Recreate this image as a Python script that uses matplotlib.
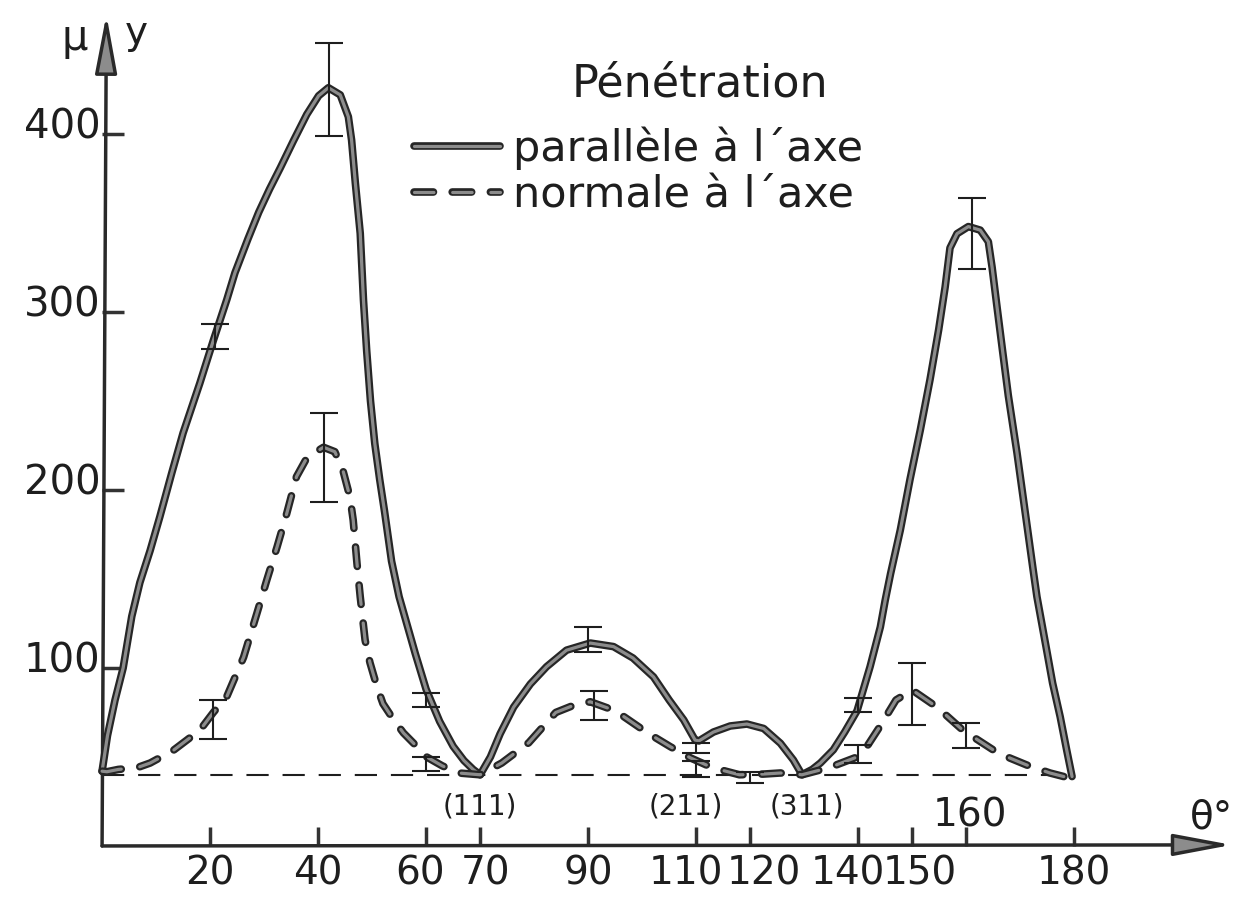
import matplotlib
matplotlib.use("Agg")
import matplotlib.pyplot as plt
from matplotlib import patheffects as pe
from matplotlib.transforms import ScaledTranslation

plt.rcParams["font.family"] = ["DejaVu Sans"]
plt.rcParams["lines.scale_dashes"] = False

# courbe "parallèle à l'axe" (trait plein)
par_x = [0, 1, 2.4, 3.9, 5.5, 7, 8.9, 10.7, 12.9, 15, 18.1, 20.6, 23.1, 24.6,
         27, 29, 31, 33, 35.4, 37.9, 40.1, 41.9, 44.1, 45.6, 46.2, 46.9, 47.8, 48.4,
         49, 49.7, 50.5, 51.4, 52.3, 53.6, 55, 56.5, 58, 60, 62.5, 65, 67, 68.7, 70,
         71.9, 73.7, 76.2, 79.3, 82.3, 86, 90.4, 94.7, 98.3, 102.1, 105, 107.7, 109.8,
         110.5, 113.2, 116.3, 119.4, 122.5, 125.6, 128, 129.6,
         131.5, 133, 135.4, 137.5, 139.8, 142.2, 144.1, 145, 146, 147.8, 149.6,
         151.5, 153.3, 154.9, 156.1, 157, 158.3, 160.4, 162.6, 164.1, 164.8, 165.7,
         166.7, 167.8, 169.4, 170.9, 172.4, 173.1, 174.9, 176, 177.4, 178.6, 179.6]
par_y = [42, 62, 82, 100, 129, 148, 166, 185, 209.5, 232, 260, 284, 307, 322,
         341, 356, 369, 381, 396, 411, 421.5, 426, 422, 409.7, 396.6, 372.3, 344.2, 306.7,
         278, 250, 226, 206, 188, 160, 140, 124, 108, 88, 70, 56, 48, 43, 40,
         50, 63, 78, 91, 100.7, 110, 114, 112, 105.6, 95, 82, 70.8, 59.5,
         59, 64, 67.4, 68.5, 66, 57.7, 48.3, 40,
         43, 46.6, 54, 64, 76, 100.7, 123, 138, 153, 177.5, 206,
         233.7, 262, 290, 314, 336, 344, 348, 346, 339.5, 325, 303,
         279, 253, 221, 188, 155, 140, 110, 91.5, 72.6, 54, 39]

# courbe "normale à l'axe" (tirets)
nor_x = [0, 0.9, 3, 6.5, 8.9, 13.1, 18.1, 20.6, 23.1, 26.2, 28.7, 30.5, 32.4,
         34.2, 36, 38, 41, 43.1, 44.6, 45.9, 46.5, 47.2, 47.8, 48.7, 49.6, 50.9,
         52, 54, 55.8, 58.3, 60.1, 63, 66, 70,
         74, 79, 84, 87.3, 90.4, 95, 101, 105.2, 109, 113, 118, 122.5, 125.6, 129.6,
         133, 135.4, 139.8, 141.6, 144, 147, 150, 154.6, 159.4, 166, 171.2, 175.5,
         178.7, 180]
nor_y = [42, 41.7, 43, 44, 46.6, 53.5, 65, 75, 84, 106, 131, 149.4, 168,
         186.9, 207.5, 218.5, 224, 221.5, 211, 196, 183, 158.7, 140, 115.7, 103, 89.5,
         80, 70.8, 63.5, 55.8, 50, 45, 41, 40,
         46.6, 58, 75, 79, 81, 76, 63.5, 55.8, 49.4, 44, 40, 40.4, 41, 40,
         42.7, 44.9, 50, 55.8, 67, 82, 87.6, 78, 65, 52, 45.5, 41,
         38.5, 39]

# barres d'erreur
par_err_x = [21, 42, 60, 90, 110, 140, 161]
par_err_y = [286, 425, 82, 116, 55, 79, 344]
par_err = [7, 26, 4, 7, 3, 4, 20]

nor_err_x = [20.5, 41, 60, 91, 110, 120, 140, 150, 160]
nor_err_y = [71, 218, 46, 79, 43.5, 38.5, 51.5, 85.5, 62]
nor_err = [11, 25, 4, 8, 4.5, 3, 5, 17.5, 7]

baseline = 40

x_ticks = [20, 40, 60, 70, 90, 110, 120, 140, 150, 160, 180]
x_labels = ["20", "40", "60", "70", "90", "110", "120", "140", "150", "", "180"]
# décalage horizontal (px) des étiquettes serrées
x_label_shift = [0, 0, -6, 5, 0, -10, 14, -10, 8, 0, 0]
y_ticks = [100, 200, 300, 400]

hkl_x = [70, 108, 130.5]
hkl_labels = ["(111)", "(211)", "(311)"]

ink = "#1e1e1e"
grey = "#8c8c8c"

fig = plt.figure(figsize=(12.33, 8.99), dpi=100)
ax = fig.add_axes([0, 0, 1, 1])
ax.set_xlim(-18.9, 209.4)
ax.set_ylim(-29.8, 475.3)

for s in ["top", "right"]:
    ax.spines[s].set_visible(False)
for s in ["left", "bottom"]:
    ax.spines[s].set_position(("data", 0))
    ax.spines[s].set_color("none")

ax.set_xticks(x_ticks)
ax.set_xticklabels(x_labels)
ax.set_yticks(y_ticks)
ax.tick_params(axis="x", direction="in", length=14, width=2.5, color="#333333",
               pad=6, labelsize=28, labelcolor=ink)
ax.tick_params(axis="y", direction="in", length=16, width=2.5, color="#333333",
               pad=1, labelsize=29, labelcolor=ink)
for lab in ax.get_yticklabels():
    lab.set_transform(lab.get_transform() + ScaledTranslation(0, 0.11, fig.dpi_scale_trans))
for lab, dx in zip(ax.get_xticklabels(), x_label_shift):
    lab.set_transform(lab.get_transform() + ScaledTranslation(dx / 100, 0, fig.dpi_scale_trans))

# axes avec flèches
arrow = dict(arrowstyle="-|>,head_length=0.8,head_width=0.15", mutation_scale=45,
             lw=2.5, ec="#2a2a2a", fc=grey, shrinkA=0, shrinkB=0)
ax.annotate("", xy=(0.8, 467), xytext=(0, 0), arrowprops=arrow,
            annotation_clip=False)
ax.annotate("", xy=(209.2, 0.6), xytext=(0, 0), arrowprops=arrow,
            annotation_clip=False)

# niveau de base
ax.plot([0, 180], [baseline, baseline], color=ink, lw=1.5,
        dashes=(16, 10), zorder=2)

outline = [pe.Stroke(linewidth=5.5, foreground="#262626"), pe.Normal()]
ax.plot(par_x, par_y, color=grey, lw=2.3, solid_capstyle="round",
        solid_joinstyle="round", path_effects=outline, zorder=3,
        label="parallèle à l´axe")
ax.plot(nor_x, nor_y, color=grey, lw=2.3, dashes=(14, 13.5),
        dash_capstyle="round", dash_joinstyle="round", path_effects=outline,
        zorder=3, label="normale à l´axe")

ax.errorbar(par_err_x, par_err_y, yerr=par_err, fmt="none", ecolor=ink,
            elinewidth=1.5, capsize=10, capthick=1.5, zorder=4)
ax.errorbar(nor_err_x, nor_err_y, yerr=nor_err, fmt="none", ecolor=ink,
            elinewidth=1.5, capsize=10, capthick=1.5, zorder=4)

for x, t in zip(hkl_x, hkl_labels):
    ax.text(x, 22, t, ha="center", va="center", fontsize=20, color=ink)

ax.text(160.7, 17, "160", ha="center", va="center", fontsize=28, color=ink)
ax.text(205.5, 16, "θ°", ha="center", va="center", fontsize=28, color=ink)
ax.text(-5, 454, "μ", ha="center", va="center", fontsize=30, color=ink)
ax.text(6.3, 457, "y", ha="center", va="center", fontsize=28, color=ink)

ax.text(110.7, 428, "Pénétration", ha="center", va="center", fontsize=32, color=ink)
leg = ax.legend(loc="upper left", bbox_to_anchor=(0.318, 0.883), frameon=False,
                fontsize=31, handlelength=2.0, handletextpad=0.3,
                labelspacing=0.1, borderpad=0)
for t in leg.get_texts():
    t.set_color(ink)

fig.savefig("out.png", dpi=100, facecolor="white")
